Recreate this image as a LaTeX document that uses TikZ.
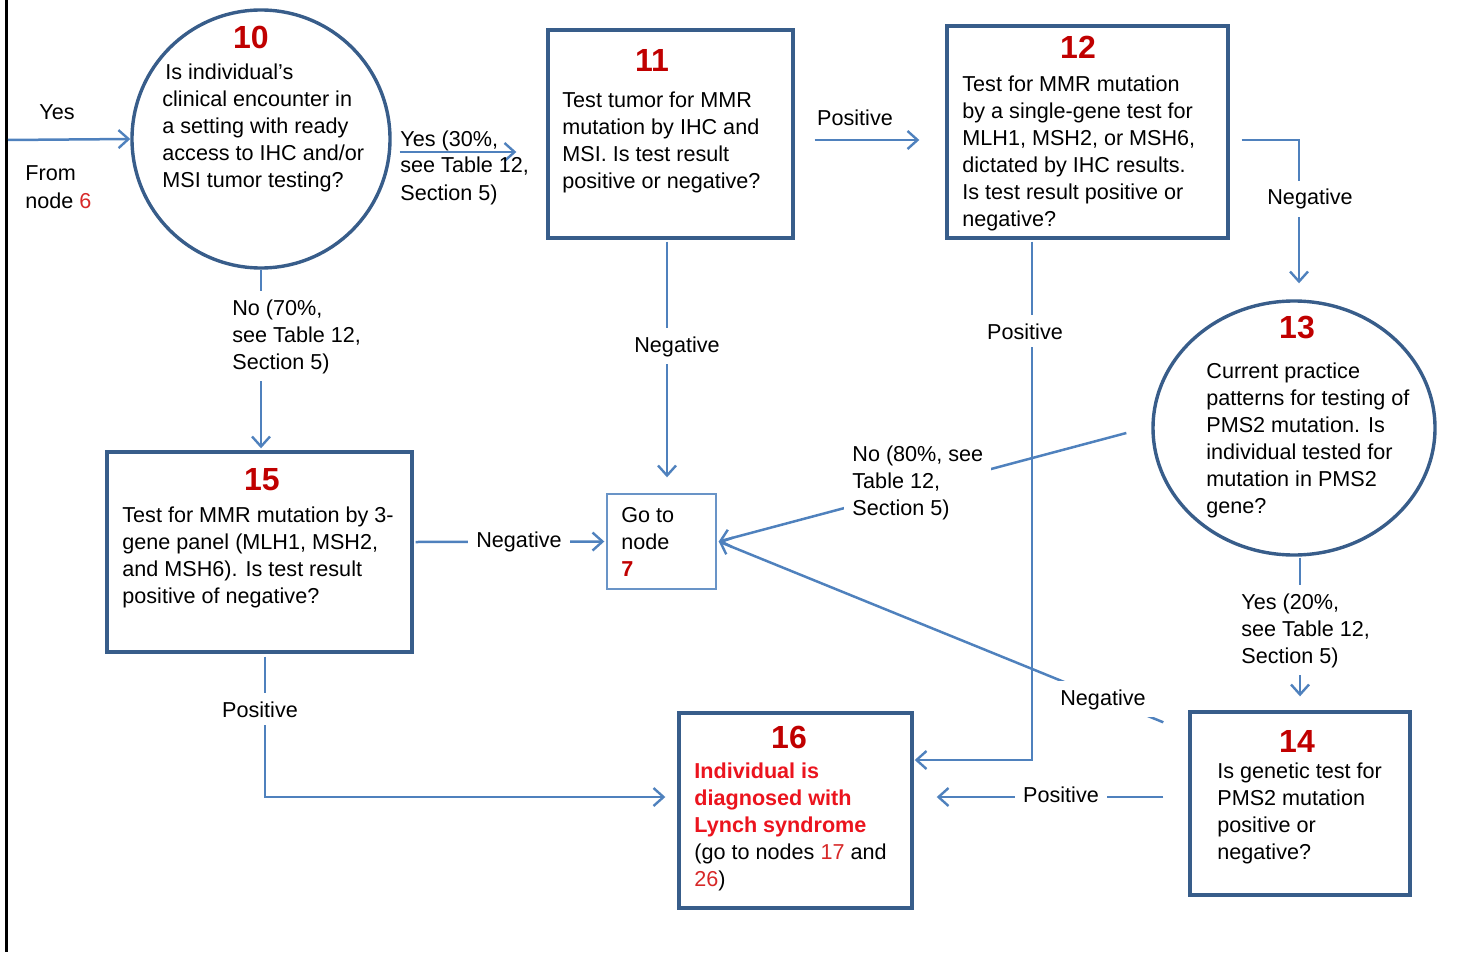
\documentclass[tikz,border=0pt]{standalone}
\usepackage{fontspec}
\setmainfont{Liberation Sans}
\usetikzlibrary{shapes.geometric,arrows.meta,calc}
\definecolor{boxc}{RGB}{56,93,138}
\definecolor{arrc}{RGB}{79,129,189}
\definecolor{numred}{RGB}{192,0,0}
\definecolor{hotred}{RGB}{235,20,30}
\definecolor{refred}{RGB}{215,40,40}
\newcommand{\lynchred}[1]{\textcolor{hotred}{\textbf{#1}}}

\begin{document}
\begin{tikzpicture}[x=0.5pt,y=-0.5pt,
  every node/.style={font=\fontsize{10.8}{13.5}\selectfont},
  shapebox/.style={draw=boxc, line width=1.7pt, rectangle, inner sep=0pt},
  shapecirc/.style={draw=boxc, line width=1.7pt, ellipse, inner sep=0pt},
  gotobox/.style={draw=arrc!85, line width=0.7pt, rectangle, inner sep=0pt},
  num/.style={text=numred, font=\fontsize{16}{18}\selectfont\bfseries, inner sep=0pt},
  % multi-line texts are placed by the baseline of their last line
  body/.style={anchor=base west, align=left, inner sep=0pt},
  lbl/.style={fill=white, inner sep=4pt, align=left, anchor=base west},
  clbl/.style={fill=white, inner sep=4pt, anchor=base},
  link/.style={draw=arrc, line width=1.25pt},
  arr/.style={link, -{Straight Barb[length=5pt,width=9pt,line width=1.2pt]}},
]
\useasboundingbox (0,0) rectangle (1459,952);

% left frame line
\draw[line width=1.5pt] (6.5,0) -- (6.5,952);

% decision circles and boxes
\node[shapecirc, minimum width=129pt, minimum height=129pt] (n10) at (261,139) {};
\node[shapebox, minimum width=122.5pt, minimum height=104pt] (n11) at (670.5,134) {};
\node[shapebox, minimum width=140.5pt, minimum height=106pt] (n12) at (1087.5,132) {};
\node[shapecirc, minimum width=141pt, minimum height=127pt] (n13) at (1294,428) {};
\node[shapebox, minimum width=110pt, minimum height=91.5pt] (n14) at (1300,803.5) {};
\node[shapebox, minimum width=152.5pt, minimum height=100pt] (n15) at (259.5,552) {};
\node[gotobox, minimum width=54.5pt, minimum height=47.5pt] (n7) at (661.5,541.5) {};
\node[shapebox, minimum width=116.5pt, minimum height=97.5pt] (n16) at (795.5,810.5) {};

% node numbers
\node[num] (k10) at (251,37) {10};
\node[num] (k11) at (652,60) {11};
\node[num] (k12) at (1078,47) {12};
\node[num] (k13) at (1297,328) {13};
\node[num] (k14) at (1297,741) {14};
\node[num] (k15) at (262,480) {15};
\node[num] (k16) at (789,737) {16};

% node texts
\node[body] (t10) at (162,188) {\hspace{1.5pt}Is individual's\\clinical encounter in\\a setting with ready\\access to IHC and/or\\MSI tumor testing?};
\node[body] (t11) at (562,189) {Test tumor for MMR\\mutation by IHC and\\MSI. Is test result\\positive or negative?};
\node[body] (t12) at (962,227) {Test for MMR mutation\\by a single-gene test for\\MLH1, MSH2, or MSH6,\\dictated by IHC results.\\Is test result positive or\\negative?};
\node[body] (t13) at (1206,513) {Current practice\\patterns for testing of\\PMS2 mutation. Is\\individual tested for\\mutation in PMS2\\gene?};
\node[body] (t14) at (1217,859) {Is genetic test for\\PMS2 mutation\\positive or\\negative?};
\node[body] (t15) at (122,603) {Test for MMR mutation by 3-\\gene panel (MLH1, MSH2,\\and MSH6). Is test result\\positive of negative?};
\node[body] (t16) at (694,886) {\lynchred{Individual is}\\\lynchred{diagnosed with}\\\lynchred{Lynch syndrome}\\(go to nodes \textcolor{refred}{17} and\\\textcolor{refred}{26})};
\node[body] (t7) at (621,576) {Go to\\node\\\textcolor{numred}{\textbf{7}}};

% entry from node 6
\coordinate (entry) at (8,140);
\node[anchor=base, inner sep=0pt] (lyes) at (57,120) {Yes};
\node[body] (lfrom) at (25,208) {From\\node \textcolor{refred}{6}};

% connectors
\draw[arr] (entry) -- (n10.west);
\draw[arr] ($(n10.east)+(8,13)$) -- ($(n11.west)+(-30,18)$);
\draw[arr] ($(n11.east)+(20,6)$) -- ($(n12.west)+(-26,8)$);
\draw[arr] ($(n12.east)+(12,8)$) -| ($(n13.north)+(5,-16)$);
\draw[arr] ($(n13.west)+(-25,5)$) -- ($(n7.east)+(2,0)$);
\draw[arr] ($(n13.south)+(6,1)$) -- ($(n14.north)+(0,-14)$);
\draw[arr] ($(n14.west)+(-25,-6.5)$) -- ($(n16.east)+(23,-13.5)$);
\draw[arr] ($(n14.north west)+(-25,12)$) -- ($(n7.east)+(2,0)$);
\draw[arr] ($(n12.south)+(-55.5,2)$) |- ($(n16.east)+(1,-50.5)$);
\draw[arr] ($(n11.south)+(-3.5,2)$) -- ($(n7.north)+(5.5,-16)$);
\draw[arr, shorten >=1pt] (n10.south) -- (n10.south |- n15.north);
\draw[arr] ($(n15.east)+(2,-10)$) -- ($(n7.west)+(-2,0)$);
\draw[arr] ($(n15.south)+(5.5,3)$) |- ($(n16.west)+(-12,-13.5)$);

% connector labels
\node[body] (lyes30) at (400,200) {Yes (30\%,\\see Table 12,\\Section 5)};
\node[lbl] (lno70) at (224,369) {No (70\%,\\see Table 12,\\Section 5)};
\node[clbl] (lneg11) at (677,352) {Negative};
\node[clbl] (lpos11) at (855,126) {Positive};
\node[clbl] (lneg12) at (1310,205) {Negative};
\node[clbl] (lpos12) at (1025,339) {Positive};
\node[lbl] (lno80) at (844,515) {No (80\%, see\\Table 12,\\Section 5)};
\node[lbl] (lyes20) at (1233,663) {Yes (20\%,\\see Table 12,\\Section 5)};
\node[clbl] (lneg14) at (1103,705) {Negative};
\node[clbl] (lpos14) at (1061,802) {Positive};
\node[clbl] (lneg15) at (519,547) {Negative};
\node[clbl] (lpos15) at (260,717) {Positive};
\end{tikzpicture}
\end{document}
